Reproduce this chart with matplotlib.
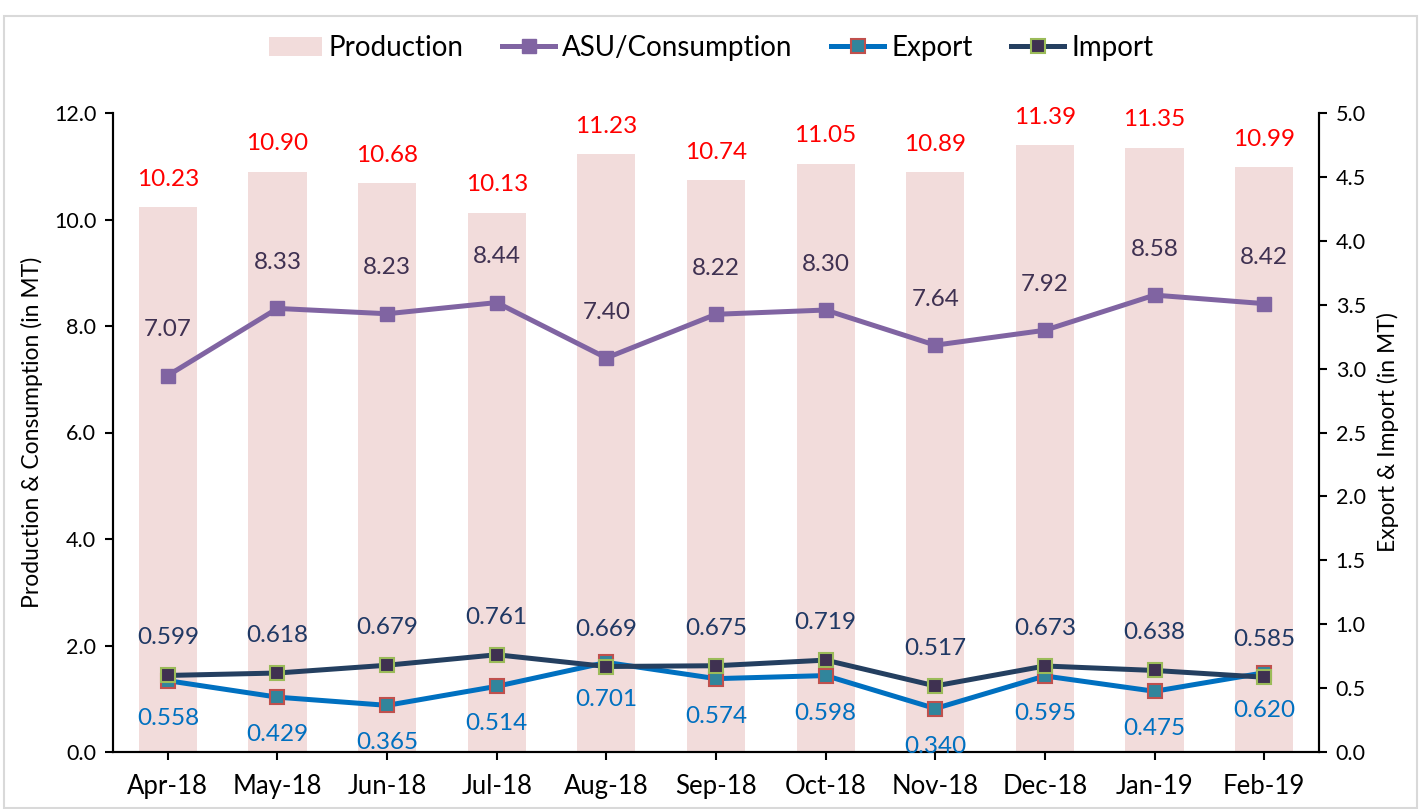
import matplotlib
matplotlib.use("Agg")
import matplotlib.pyplot as plt
from matplotlib.patches import Rectangle
import numpy as np

plt.rcParams['font.family'] = ['Lato', 'DejaVu Sans']

months = ["Apr-18", "May-18", "Jun-18", "Jul-18", "Aug-18", "Sep-18",
          "Oct-18", "Nov-18", "Dec-18", "Jan-19", "Feb-19"]
production = [10.23, 10.90, 10.68, 10.13, 11.23, 10.74, 11.05, 10.89, 11.39, 11.35, 10.99]
consumption = [7.07, 8.33, 8.23, 8.44, 7.40, 8.22, 8.30, 7.64, 7.92, 8.58, 8.42]
export = [0.558, 0.429, 0.365, 0.514, 0.701, 0.574, 0.598, 0.340, 0.595, 0.475, 0.620]
imports = [0.599, 0.618, 0.679, 0.761, 0.669, 0.675, 0.719, 0.517, 0.673, 0.638, 0.585]

W, H = 1422, 809
fig = plt.figure(figsize=(W / 100, H / 100), dpi=100)
ax = fig.add_axes([113 / W, 1 - 752 / H, (1319 - 113) / W, (752 - 113) / H])
ax2 = ax.twinx()

x = np.arange(len(months))
bar_c = "#F2DCDB"
asu_c = "#8064A2"
exp_c = "#0070C0"
imp_c = "#243F60"

bars = ax.bar(x, production, width=0.53, color=bar_c, zorder=1, label="Production")
l1, = ax.plot(x, consumption, color=asu_c, lw=3.6, marker="s", ms=10,
              mfc=asu_c, mec=asu_c, zorder=3, label="ASU/Consumption")
l2, = ax2.plot(x, export, color=exp_c, lw=3.6, marker="s", ms=10,
               mfc="#31859C", mec="#C0504D", mew=1.5, zorder=3, label="Export")
l3, = ax2.plot(x, imports, color=imp_c, lw=3.6, marker="s", ms=10,
               mfc="#3F3151", mec="#9BBB59", mew=1.5, zorder=4, label="Import")

ax.set_xlim(-0.5, len(months) - 0.5)
ax.set_ylim(0, 12)
ax2.set_ylim(0, 5)
ax.set_yticks(np.arange(0, 12.1, 2))
ax.set_yticklabels([f"{v:.1f}" for v in np.arange(0, 12.1, 2)])
ax2.set_yticks(np.arange(0, 5.01, 0.5))
ax2.set_yticklabels([f"{v:.1f}" for v in np.arange(0, 5.01, 0.5)])
ax.set_xticks(x)
ax.set_xticklabels(months)

for a in (ax, ax2):
    a.spines["top"].set_visible(False)
    for s in a.spines.values():
        s.set_linewidth(1.5)
    a.tick_params(axis="both", direction="out", length=6, width=1.5, labelsize=15.5, pad=6)
ax.tick_params(axis="x", pad=10, labelsize=18.5)

ax.set_ylabel("Production & Consumption (in MT)", fontsize=16.5, labelpad=8)
ax2.set_ylabel("Export & Import (in MT)", fontsize=16.5, labelpad=8)

fs = 17.5
for xi, v in zip(x, production):
    ax.annotate(f"{v:.2f}", (xi, v), xytext=(0, 20), textcoords="offset points",
                ha="center", va="center", color="#FF0000", fontsize=fs)
for xi, v in zip(x, consumption):
    ax.annotate(f"{v:.2f}", (xi, v), xytext=(0, 33), textcoords="offset points",
                ha="center", va="center", color="#3F3151", fontsize=fs)
for xi, v in zip(x, imports):
    ax2.annotate(f"{v:.3f}", (xi, v), xytext=(0, 27), textcoords="offset points",
                 ha="center", va="center", color="#1F3864", fontsize=fs)
for xi, v in zip(x, export):
    ax2.annotate(f"{v:.3f}", (xi, v), xytext=(0, -27), textcoords="offset points",
                 ha="center", va="center", color="#0070C0", fontsize=fs)

fig.legend(handles=[bars, l1, l2, l3], loc="center", bbox_to_anchor=(0.5, 1 - 48 / H),
           ncol=4, frameon=False, fontsize=20, handlelength=1.9, columnspacing=1.4,
           handletextpad=0.25)

fig.patches.append(Rectangle((4 / W, 1 - 808 / H), (1417 - 4) / W, (808 - 16) / H,
                             transform=fig.transFigure, fill=False,
                             edgecolor="#D9D9D9", lw=1.5))

fig.savefig("out.png", dpi=100)
